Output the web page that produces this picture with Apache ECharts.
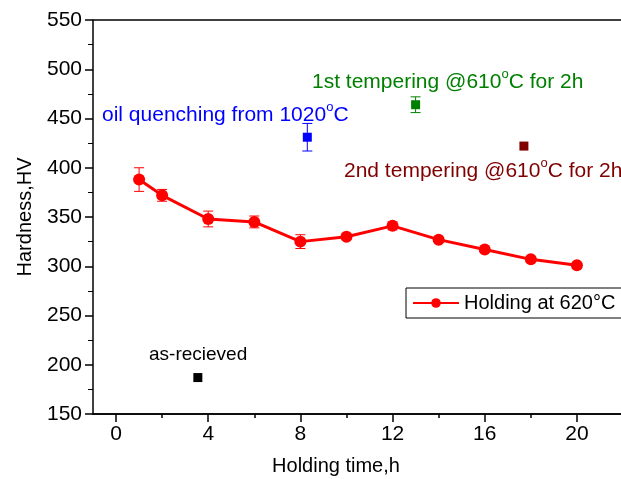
<!DOCTYPE html>
<html><head><meta charset="utf-8">
<script src="https://cdn.jsdelivr.net/npm/echarts@6/dist/echarts.min.js"></script>
<style>html,body{margin:0;padding:0;background:#fff}#c{width:621px;height:479px}</style>
</head><body><div id="c"></div>
<script>
// Holding at 620°C series
const holdTime = [1, 2, 4, 6, 8, 10, 12, 14, 16, 18, 20];
const holdHV   = [388, 372, 348, 345, 325, 330, 341, 327, 317, 307, 301];
const holdErr  = [12, 6, 8, 6, 7, 3, 4, 2, 2, 2, 2];
// single treatments: [time, HV, err]
const asReceived = [3.55, 187];
const oilQuench = [8.3, 431, 14];
const temper1 = [13.0, 464, 8];
const temper2 = [17.7, 422];
const xTicks = [0, 4, 8, 12, 16, 20];
const xMinorTicks = [2, 6, 10, 14, 18];

const FONT = 'Liberation Sans, Arial, sans-serif';
const chart = echarts.init(document.getElementById('c'));

function errBars(color, rows) {
  return {
    type: 'custom', silent: true, z: 1,
    data: rows,
    renderItem: function (params, api) {
      const x = api.value(0), y = api.value(1), e = api.value(2);
      const top = api.coord([x, y + e]), bot = api.coord([x, y - e]);
      const w = 5;
      return {
        type: 'group',
        children: [
          {type: 'line', shape: {x1: top[0], y1: top[1], x2: bot[0], y2: bot[1]}, style: {stroke: color, lineWidth: 1}},
          {type: 'line', shape: {x1: top[0] - w, y1: top[1], x2: top[0] + w, y2: top[1]}, style: {stroke: color, lineWidth: 1}},
          {type: 'line', shape: {x1: bot[0] - w, y1: bot[1], x2: bot[0] + w, y2: bot[1]}, style: {stroke: color, lineWidth: 1}}
        ]
      };
    }
  };
}

function sup(main, color, left, top, size, tail) {
  return {
    type: 'text', left: left, top: top, silent: true,
    style: {
      text: '{a|' + main + '}{s|o}{a|C' + tail + '}',
      rich: {
        a: {fontSize: size, fontFamily: FONT, fill: color, color: color, lineHeight: size + 4, verticalAlign: 'bottom'},
        s: {fontSize: Math.round(size * 0.6), fontFamily: FONT, fill: color, color: color, verticalAlign: 'top', lineHeight: size + 4}
      }
    }
  };
}

const axisCommon = {
  type: 'value', min: -1, max: 22, position: 'bottom',
  axisLine: {show: true, onZero: false, lineStyle: {color: '#000', width: 1.5}},
  splitLine: {show: false}
};

const option = {
  animation: false,
  grid: {left: 93, top: 20, right: -2, bottom: 65, show: false, containLabel: false, outerBoundsMode: 'none'},
  xAxis: [
    Object.assign({}, axisCommon, {
      name: 'Holding time,h', nameLocation: 'middle', nameGap: 42,
      nameTextStyle: {fontSize: 20, fontFamily: FONT, color: '#000', padding: [0, 44, 0, 0]},
      axisTick: {show: true, length: 8, lineStyle: {color: '#000', width: 1.5}, customValues: xTicks},
      axisLabel: {fontSize: 21, fontFamily: FONT, color: '#000', margin: 10, customValues: xTicks}
    }),
    Object.assign({}, axisCommon, {
      axisTick: {show: true, length: 4, lineStyle: {color: '#000', width: 1.5}, customValues: xMinorTicks},
      axisLabel: {show: false}
    })
  ],
  yAxis: {
    type: 'value', min: 150, max: 550, interval: 50,
    name: 'Hardness,HV', nameLocation: 'middle', nameGap: 58,
    nameTextStyle: {fontSize: 20, fontFamily: FONT, color: '#000'},
    axisLine: {show: true, onZero: false, lineStyle: {color: '#000', width: 1.5}},
    axisTick: {show: true, length: 8, lineStyle: {color: '#000', width: 1.5}},
    minorTick: {show: true, splitNumber: 2, length: 5, lineStyle: {color: '#000', width: 1}},
    axisLabel: {fontSize: 21, fontFamily: FONT, color: '#000', margin: 11},
    splitLine: {show: false}
  },
  legend: {
    left: 406, top: 288, orient: 'horizontal',
    data: ['Holding at 620°C'],
    itemWidth: 46, itemHeight: 12, itemGap: 4,
    borderColor: '#000', borderWidth: 1, borderRadius: 0,
    padding: [5, 30, 5, 6],
    textStyle: {fontSize: 20, fontFamily: FONT, color: '#000'}
  },
  graphic: [
    {type: 'line', shape: {x1: 93, y1: 20, x2: 621, y2: 20}, style: {stroke: '#000', lineWidth: 1.5}, silent: true},
    sup('oil quenching from 1020', '#0000ff', 102, 101, 21, ''),
    sup('1st tempering @610', '#008000', 312, 68, 21, ' for 2h'),
    sup('2nd tempering @610', '#800000', 344, 157, 21, ' for 2h'),
    {type: 'text', left: 149, top: 345, silent: true, style: {text: 'as-recieved', fontSize: 19, fontFamily: FONT, fill: '#000'}}
  ],
  series: [
    errBars('#ff0000', holdTime.map((t, i) => [t, holdHV[i], holdErr[i]])),
    errBars('#0000ff', [oilQuench]),
    errBars('#008000', [temper1]),
    {
      name: 'Holding at 620°C', type: 'line', z: 3,
      data: holdTime.map((t, i) => [t, holdHV[i]]),
      symbol: 'circle', symbolSize: 12,
      lineStyle: {color: '#ff0000', width: 3},
      itemStyle: {color: '#ff0000', opacity: 1}
    },
    {type: 'scatter', symbol: 'rect', symbolSize: 9, itemStyle: {color: '#000000', opacity: 1}, data: [asReceived], z: 3},
    {type: 'scatter', symbol: 'rect', symbolSize: 9, itemStyle: {color: '#0000ff', opacity: 1}, data: [[oilQuench[0], oilQuench[1]]], z: 3},
    {type: 'scatter', symbol: 'rect', symbolSize: 9, itemStyle: {color: '#008000', opacity: 1}, data: [[temper1[0], temper1[1]]], z: 3},
    {type: 'scatter', symbol: 'rect', symbolSize: 9, itemStyle: {color: '#800000', opacity: 1}, data: [temper2], z: 3}
  ]
};
chart.setOption(option);
</script></body></html>
